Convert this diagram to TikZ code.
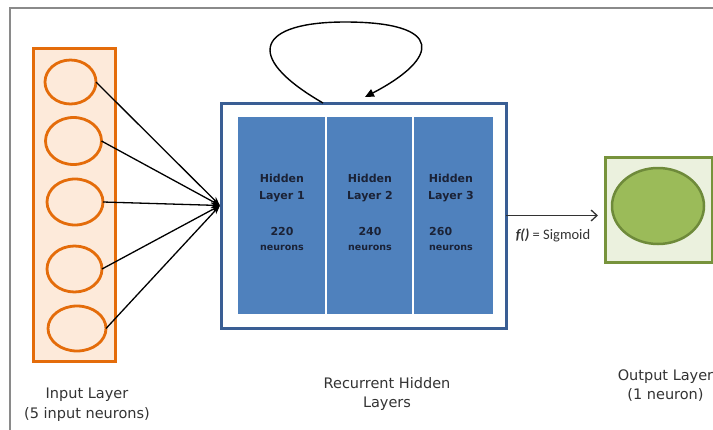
\documentclass[tikz,border=0pt]{standalone}
\usepackage{fontspec}
\setmainfont{DejaVu Sans}
\newfontfamily\calfont{Carlito}
\usetikzlibrary{arrows.meta,shapes.geometric,calc}
\definecolor{frameg}{HTML}{8A8A8A}
\definecolor{inorange}{HTML}{E46C0A}
\definecolor{infill}{HTML}{FDEADA}
\definecolor{hidborder}{HTML}{3A5E94}
\definecolor{hidfill}{HTML}{4F81BD}
\definecolor{outborder}{HTML}{77933C}
\definecolor{outfill}{HTML}{EBF1DE}
\definecolor{outcfill}{HTML}{9BBB59}
\definecolor{outcdraw}{HTML}{6E8A3A}
\definecolor{labtext}{HTML}{333333}
\definecolor{hidtext}{HTML}{1B2236}
\begin{document}
\begin{tikzpicture}[x=1pt,y=-1pt,
  box/.style={rectangle,inner sep=0pt,outer sep=0pt},
  inbox/.style={box,draw=inorange,fill=infill,line width=3pt},
  incirc/.style={ellipse,inner sep=0pt,outer sep=0pt,draw=inorange,line width=2.8pt,minimum width=54pt,minimum height=45pt},
  hidbox/.style={box,draw=hidborder,fill=white,line width=3pt},
  hidcol/.style={box,fill=hidfill,minimum height=197pt},
  outbox/.style={box,draw=outborder,fill=outfill,line width=3pt},
  outcirc/.style={ellipse,inner sep=0pt,outer sep=0pt,draw=outcdraw,fill=outcfill,line width=2.5pt},
  hidlab/.style={inner sep=0pt,text=hidtext,font=\bfseries\fontsize{11}{13}\selectfont},
  hidsmall/.style={inner sep=0pt,text=hidtext,font=\bfseries\fontsize{9.5}{11}\selectfont},
  layerlab/.style={inner sep=0pt,align=center,text=labtext,font=\fontsize{14.5}{19.5}\selectfont},
  conn/.style={draw=black,line width=1.3pt},
]
\useasboundingbox (0,0) rectangle (713,429);
\begin{scope}
\clip (0,0) rectangle (713,429);
% frame
\draw[frameg,line width=2pt] (10,440) -- (10,8) -- (730,8);

% input layer
\node[inbox,minimum width=82pt,minimum height=313pt] (inb) at (74.5,205) {};
\node[incirc,minimum width=51pt,minimum height=44pt] (c1) at (70.5,82) {};
\node[incirc,minimum width=56pt,minimum height=47pt] (c2) at (73.5,141) {};
\node[incirc,minimum width=56pt,minimum height=46pt] (c3) at (75,202) {};
\node[incirc,minimum width=55pt,minimum height=46pt] (c4) at (74.5,269) {};
\node[incirc,minimum width=58pt,minimum height=45pt] (c5) at (77,328.5) {};

% hidden layers
\node[hidbox,minimum width=285pt,minimum height=225pt] (hid) at (363.5,215.5) {};
\node[hidcol,minimum width=87pt] (col1) at (281.5,215.5) {};
\node[hidcol,minimum width=85pt] (col2) at (369.5,215.5) {};
\node[hidcol,minimum width=79pt] (col3) at (453.5,215.5) {};

\node[hidlab] (h1a) at (282,178) {Hidden};
\node[hidlab] (h1b) at (282,197) {Layer 1};
\node[hidlab] (h1c) at (282,231) {220};
\node[hidsmall] (h1d) at (282,248) {neurons};
\node[hidlab] (h2a) at (370,178) {Hidden};
\node[hidlab] (h2b) at (370,197) {Layer 2};
\node[hidlab] (h2c) at (370,231) {240};
\node[hidsmall] (h2d) at (370,248) {neurons};
\node[hidlab] (h3a) at (451,178) {Hidden};
\node[hidlab] (h3b) at (451,197) {Layer 3};
\node[hidlab,anchor=west] (h3c) at (429,231) {260};
\node[hidsmall,anchor=west] (h3d) at (429,248) {neurons};

% output layer
\node[outbox,minimum width=107pt,minimum height=105pt] (outb) at (658.5,209.5) {};
\node[outcirc,minimum width=92pt,minimum height=76pt] (outc) at (658,206) {};

% connectors from inputs
\coordinate (hin) at ([xshift=-1pt,yshift=10pt]hid.west);
\foreach \c in {c1,c2,c3,c4,c5}
  \draw[conn,-{Stealth[length=9pt,width=6pt]}] (\c.east) -- (hin);

% recurrent loop
\coordinate (loopstart) at ([xshift=-40.5pt]hid.north);
\coordinate (looptip) at (365,97);
\draw[conn,line width=1.4pt,-{Triangle[length=9pt,width=8pt]}] (loopstart)
  .. controls (240,55) and (260,22) .. (345,22)
  .. controls (445,22) and (440,58) .. (looptip);

% output arrow
\coordinate (outtip) at ([xshift=-7pt]outb.west |- hid.east);
\draw[conn,draw=black!80,-{Straight Barb[length=6pt,width=11pt]}] (hid.east) -- (outtip);
\node[inner sep=0pt,text=labtext,font=\calfont\fontsize{14.5}{16}\selectfont] (sig) at (553,235.5) {\textbf{\textit{f()}} = Sigmoid};

% labels
\node[layerlab] (inlab) at (87,404.5) {Input Layer\\(5 input neurons)};
\node[layerlab] (hidlab) at (387,394) {Recurrent Hidden\\Layers};
\node[layerlab] (outlab) at (665.5,385.5) {Output Layer\\(1 neuron)};
\end{scope}
\end{tikzpicture}
\end{document}
